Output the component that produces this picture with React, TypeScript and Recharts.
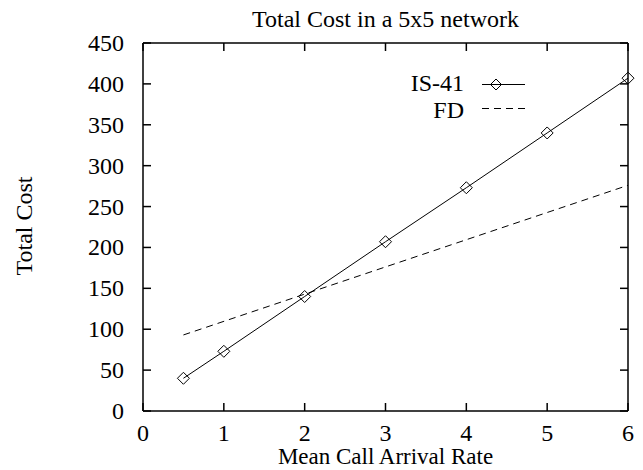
import React from "react";
import { LineChart, Line, XAxis, YAxis, Legend } from "recharts";

// values
const rates = [0.5, 1, 2, 3, 4, 5, 6];
const is41Cost = [40, 73, 140, 207, 273, 340, 407];
const fdRates = [0.5, 6];
const fdCost = [93, 276];

const xTicks = [0, 1, 2, 3, 4, 5, 6];
const yTicks = [0, 50, 100, 150, 200, 250, 300, 350, 400, 450];

const is41Data = rates.map((r, i) => ({ rate: r, cost: is41Cost[i] }));
const fdData = fdRates.map((r, i) => ({ rate: r, cost: fdCost[i] }));

const FONT = "'Liberation Serif', 'Times New Roman', serif";
const FS = 24;
const TICK = 8;
const textStyle = { fontFamily: FONT, fontSize: FS };

// gnuplot style: ticks point into the plot box
const bottomTick = (p: any) => (
  <g key={"b" + p.index}>
    <line x1={p.x} x2={p.x} y1={p.y} y2={p.y - TICK} stroke="#000" strokeWidth={1.5} />
    <text x={p.x} y={p.y + 30} textAnchor="middle" fill="#000" style={textStyle}>
      {p.payload.value}
    </text>
  </g>
);
const leftTick = (p: any) => (
  <g key={"l" + p.index}>
    <line x1={p.x} x2={p.x + TICK} y1={p.y} y2={p.y} stroke="#000" strokeWidth={1.5} />
    <text x={p.x - 19} y={p.y + 8} textAnchor="end" fill="#000" style={textStyle}>
      {p.payload.value}
    </text>
  </g>
);
const topTick = (p: any) => (
  <line key={"t" + p.index} x1={p.x} x2={p.x} y1={p.y} y2={p.y + TICK} stroke="#000" strokeWidth={1.5} />
);
const rightTick = (p: any) => (
  <line key={"r" + p.index} x1={p.x} x2={p.x - TICK} y1={p.y} y2={p.y} stroke="#000" strokeWidth={1.5} />
);

function diamond(props: any) {
  const { cx, cy, index } = props;
  const r = 6;
  return (
    <path
      key={"d" + index}
      d={`M${cx},${cy - r}L${cx + r},${cy}L${cx},${cy + r}L${cx - r},${cy}Z`}
      fill="none"
      stroke="#000"
      strokeWidth={1}
    />
  );
}

function LegendBox() {
  return (
    <svg width={140} height={55} style={textStyle}>
      <text x={64} y={21} textAnchor="end" fill="#000">IS-41</text>
      <line x1={82} x2={125} y1={14.5} y2={14.5} stroke="#000" strokeWidth={1} />
      <path d="M96,9L101.5,14.5L96,20L90.5,14.5Z" fill="none" stroke="#000" strokeWidth={1} />
      <text x={64} y={48} textAnchor="end" fill="#000">FD</text>
      <line x1={82} x2={125} y1={38.5} y2={38.5} stroke="#000" strokeWidth={1} strokeDasharray="7 5" />
    </svg>
  );
}

function YTitle() {
  return (
    <text
      x={32}
      y={226}
      transform="rotate(-90 32 226)"
      textAnchor="middle"
      fill="#000"
      style={textStyle}
    >
      Total Cost
    </text>
  );
}

export default function App() {
  return (
    <div style={{ position: "absolute", left: 0, top: 0, width: 643, height: 470, background: "#fff" }}>
      <LineChart width={643} height={470} margin={{ top: 42, right: 14, bottom: 29, left: 83 }}>
        <XAxis
          dataKey="rate"
          type="number"
          domain={[0, 6]}
          ticks={xTicks}
          height={30}
          tickSize={0}
          tickMargin={0}
          tickLine={false}
          tick={bottomTick}
          stroke="#000"
          strokeWidth={1.5}
          label={{
            value: "Mean Call Arrival Rate",
            position: "bottom",
            offset: 7,
            style: { fill: "#000", fontFamily: FONT, fontSize: 23 },
          }}
        />
        <XAxis
          xAxisId="top"
          dataKey="rate"
          orientation="top"
          type="number"
          domain={[0, 6]}
          ticks={xTicks}
          height={1}
          tickSize={0}
          tickMargin={0}
          tickLine={false}
          tick={topTick}
          stroke="#000"
          strokeWidth={1.5}
          label={{
            value: "Total Cost in a 5x5 network",
            position: "top",
            offset: 15,
            style: { fill: "#000", ...textStyle },
          }}
        />
        <YAxis
          type="number"
          domain={[0, 450]}
          ticks={yTicks}
          width={60}
          tickSize={0}
          tickMargin={0}
          tickLine={false}
          tick={leftTick}
          stroke="#000"
          strokeWidth={1.5}
          label={<YTitle />}
        />
        <YAxis
          yAxisId="right"
          orientation="right"
          type="number"
          domain={[0, 450]}
          ticks={yTicks}
          width={1}
          tickSize={0}
          tickMargin={0}
          tickLine={false}
          tick={rightTick}
          stroke="#000"
          strokeWidth={1.5}
        />
        <Legend
          layout="vertical"
          align="center"
          verticalAlign="middle"
          wrapperStyle={{ left: 400, top: 70, width: 140, height: 55 }}
          content={() => <LegendBox />}
        />
        {/* invisible series so the mirrored top/right axes get drawn */}
        <Line
          data={is41Data}
          dataKey="cost"
          xAxisId="top"
          yAxisId="right"
          stroke="none"
          dot={false}
          activeDot={false}
          legendType="none"
          isAnimationActive={false}
        />
        <Line
          data={is41Data}
          dataKey="cost"
          name="IS-41"
          type="linear"
          stroke="#000"
          strokeWidth={1}
          dot={diamond}
          activeDot={false}
          isAnimationActive={false}
        />
        <Line
          data={fdData}
          dataKey="cost"
          name="FD"
          type="linear"
          stroke="#000"
          strokeWidth={1}
          strokeDasharray="7 5"
          dot={false}
          activeDot={false}
          isAnimationActive={false}
        />
      </LineChart>
    </div>
  );
}
